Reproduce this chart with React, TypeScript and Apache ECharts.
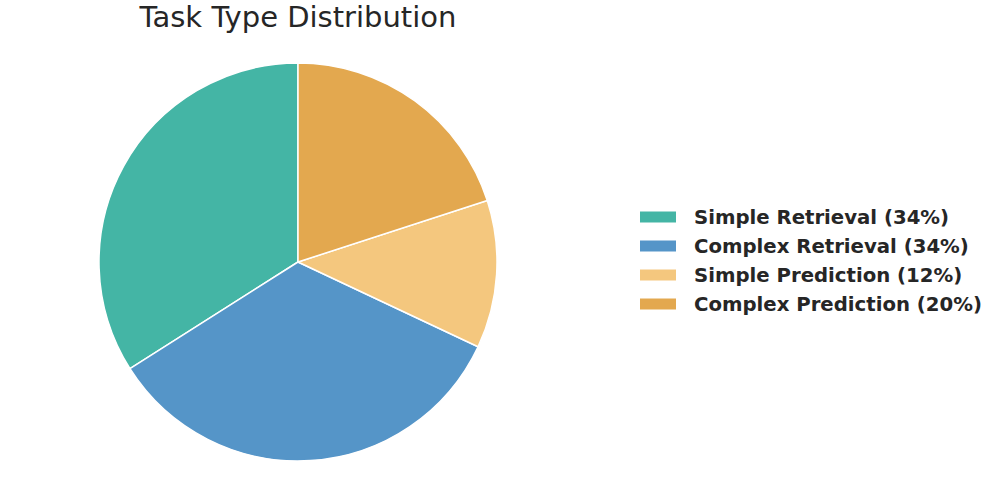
import React, { useEffect, useRef } from "react";
import * as echarts from "echarts";

const TITLE = "Task Type Distribution";
const categories = ["Simple Retrieval", "Complex Retrieval", "Simple Prediction", "Complex Prediction"];
const values = [34, 34, 12, 20];
const colors = ["#44B5A5", "#5595C8", "#F4C77E", "#E3A84F"];

export default function App() {
  const ref = useRef<HTMLDivElement>(null);
  useEffect(() => {
    if (!ref.current) return;
    const chart = echarts.init(ref.current, null, { renderer: "svg" });
    const total = values.reduce((a, b) => a + b, 0);
    const pct: Record<string, number> = {};
    categories.forEach((c, i) => (pct[c] = Math.round((values[i] / total) * 100)));
    chart.setOption({
      animation: false,
      backgroundColor: "#ffffff",
      color: colors,
      graphic: [
        {
          type: "text",
          style: {
            text: TITLE,
            x: 298,
            y: 17,
            align: "center",
            verticalAlign: "middle",
            font: "29px 'DejaVu Sans'",
            fill: "#262626",
          },
        },
      ],
      legend: {
        orient: "vertical",
        left: 633,
        top: 202,
        icon: "rect",
        itemWidth: 38,
        itemHeight: 13,
        itemGap: 9,
        selectedMode: false,
        formatter: (name: string) => `${name} (${pct[name]}%)`,
        textStyle: {
          fontFamily: "DejaVu Sans",
          fontWeight: "bold",
          fontSize: 19.7,
          lineHeight: 20,
          color: "#262626",
          padding: [0, 0, 0, 12],
        },
      },
      series: [
        {
          type: "pie",
          center: [298, 262],
          radius: 199,
          startAngle: 90,
          clockwise: false,
          label: { show: false },
          labelLine: { show: false },
          itemStyle: { borderColor: "#ffffff", borderWidth: 1.5 },
          emphasis: { disabled: true },
          data: categories.map((c, i) => ({ name: c, value: values[i] })),
        },
      ],
    });
    return () => chart.dispose();
  }, []);
  return (
    <div
      ref={ref}
      style={{ position: "fixed", left: 0, top: 0, width: 996, height: 486 }}
    />
  );
}
